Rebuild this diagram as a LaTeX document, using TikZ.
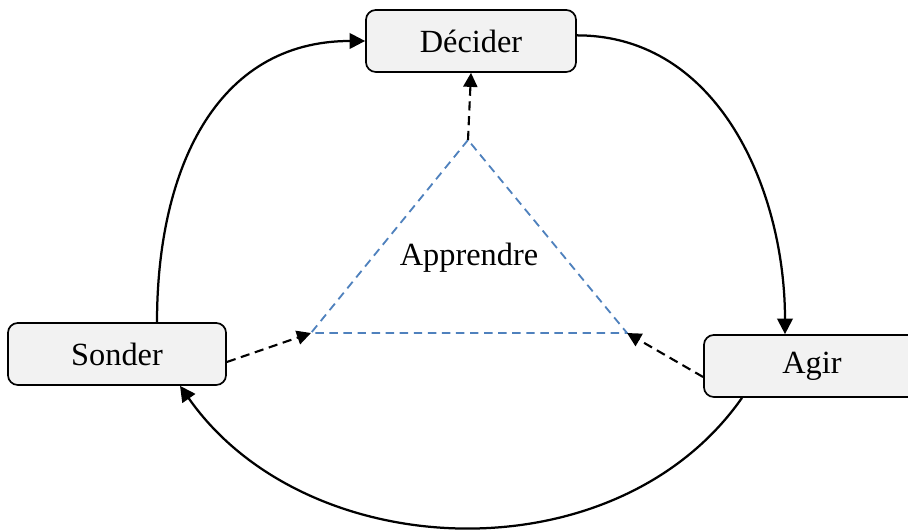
\documentclass[tikz,border=0pt]{standalone}
\usepackage{fontspec}
\setmainfont{Liberation Serif}
\usetikzlibrary{arrows.meta,positioning,calc}
\definecolor{BoxFill}{HTML}{F2F2F2}
\definecolor{LearnBlue}{HTML}{4F81BD}

\begin{document}
\begin{tikzpicture}[x=0.025cm,y=0.025cm,
  stage/.style={draw,line width=1.2pt,rounded corners=7pt,fill=BoxFill,minimum width=5.25cm,minimum height=1.55cm,font=\fontsize{23}{27}\selectfont},
  loopflow/.style={line width=1.6pt,-{Triangle[length=11pt,width=11pt]}},
  feed/.style={line width=1.5pt,dash pattern=on 6.5pt off 4pt,-{Triangle[length=10pt,width=10pt]}},
  learn/.style={LearnBlue,line width=1.3pt,dash pattern=on 6pt off 4pt}]
  \useasboundingbox (0,0) rectangle (908,531);
  % the three stages
  \node[stage] (dec) at (471,490) {Décider};
  \node[stage,minimum width=5.45cm] (son) at (117,177) {Sonder};
  \node[stage,minimum width=5.4cm] (agir) at (812,165) {Agir};
  % learning triangle
  \coordinate (apex) at (468,391);
  \coordinate (tl) at (311,198);
  \coordinate (tr) at (627,198);
  \draw[learn] (apex) -- (tl) -- (tr) -- cycle;
  \node[font=\fontsize{23}{27}\selectfont] (learnlbl) at (469,273) {Apprendre};
  % outer loop
  \draw[loopflow] ([xshift=1cm]son.north) to[out=90,in=180,looseness=1.1] (dec.west);
  \draw[loopflow] ([yshift=4pt]dec.east) to[out=0,in=90] ([xshift=-0.675cm]agir.north);
  \draw[loopflow] ([xshift=-1.75cm]agir.south) to[out=-125,in=-55] ([xshift=1.575cm]son.south);
  % feedback from learning
  \draw[feed] (apex) -- (dec.south);
  \draw[feed] ([yshift=-0.2cm]son.east) -- (tl);
  \draw[feed] ([yshift=-0.275cm]agir.west) -- (tr);
\end{tikzpicture}
\end{document}
